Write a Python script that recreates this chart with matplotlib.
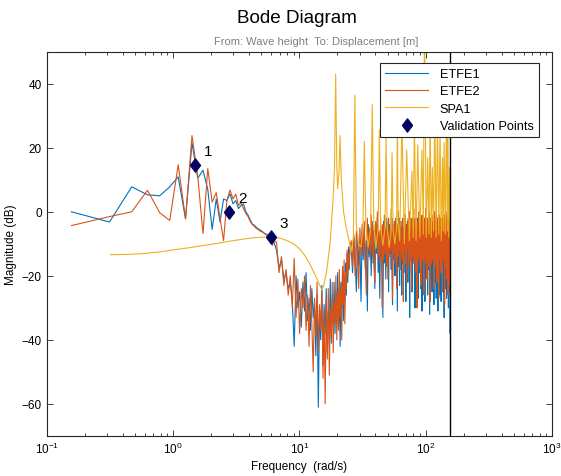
import numpy as np
import matplotlib
matplotlib.use("Agg")
import matplotlib.pyplot as plt
from matplotlib.ticker import LogLocator, NullFormatter

plt.rcParams['font.family'] = ['Liberation Sans', 'DejaVu Sans']
plt.rcParams['mathtext.default'] = 'regular'

# ETFE frequency grid: k * pi / (N * Ts), Ts = 0.02, N = 1000
dw = np.pi / 20.0
k_lo = np.arange(1, 41)
k_mid = np.arange(42, 161, 2)
k_hi = np.arange(164, 1001, 4)
w_etfe = dw * np.concatenate([k_lo, k_mid, k_hi])
w_nyq = np.pi / 0.02

# ---- ETFE1 (dB)
etfe1_lo = [0.0, -3.2, 7.8, 5.3, 5.0, 7.8, 10.9, -2.2, 21.5, 10.5,
            13.0, 7.0, -5.5, 4.0, -3.2, 4.0, 3.5, 5.6, 2.5, 3.5,
            1.0, 2.0, 2.5, 0.0, -1.0, -2.5, -3.8, -4.2, -4.8, -5.3,
            -5.6, -6.0, -6.4, -6.9, -7.0, -7.3, -7.6, -8.2, -9.5, -9.4]
etfe1_mid = [-12, -17.5, -15, -21, -19, -24, -22, -28, -42, -20,
             -30, -25, -36, -22, -31, -19, -34, -27, -37, -24,
             -33, -28, -45, -26, -61, -30, -40, -23, -48, -29,
             -38, -24, -44, -31, -36, -21, -41, -27, -35, -22,
             -38, -25, -33, -19, -36, -24, -42, -22, -30, -18,
             -34, -20, -28, -16, -26, -13, -22, -11, -18, -12]
etfe1_hi = [-11, -19, -8, -14, -25, -7, -17, -10, -28, -6,
            -15, -5, -18, -9, -31, -4, -14, -7, -20, -3,
            -16, -6, -24, -5, -13, -2, -19, -8, -27, -4,
            -14, -7, -33, -3, -16, -6, -21, -2, -15, -9,
            -25, -4, -13, -8, -18, -2, -29, -5, -15, -7,
            -20, -3, -14, -6, -31, -4, -17, -2, -23, -8,
            -13, -5, -26, -3, -16, -7, -19, -2, -14, -6,
            -28, -4, -15, -8, -22, -2, -17, -5, -33, -3,
            -14, -7, -19, -4, -25, -2, -16, -6, -13, -9,
            -30, -3, -17, -5, -21, -2, -15, -8, -27, -4,
            -14, -6, -19, -2, -24, -5, -16, -3, -31, -7,
            -13, -4, -22, -6, -17, -2, -28, -5, -15, -3,
            -20, -7, -14, -2, -26, -4, -18, -6, -13, -3,
            -32, -5, -16, -2, -21, -7, -15, -4, -25, -6,
            -14, -3, -19, -5, -29, -2, -17, -6, -22, -4,
            -15, -8, -27, -3, -13, -5, -20, -2, -31, -6,
            -16, -4, -23, -7, -14, -2, -26, -5, -18, -3,
            -28, -6, -15, -4, -21, -2, -17, -7, -25, -3,
            -14, -5, -33, -2, -19, -6, -16, -4, -24, -8,
            -13, -3, -27, -5, -17, -2, -22, -6, -15, -4,
            -30, -7, -18, -3, -25, -5, -14, -2, -38, -12]

# ---- ETFE2 (dB)
etfe2_lo = [-4.3, -1.5, 0.0, 6.7, -0.3, -2.7, 14.7, -2.2, 23.8, 11.0,
            -6.8, 13.5, 3.0, 6.0, -2.0, -9.0, 3.5, 6.8, 4.0, 5.5,
            2.0, 2.8, 1.0, -0.5, -1.5, -3.0, -4.0, -4.5, -5.2, -5.5,
            -6.0, -6.2, -6.5, -6.8, -7.2, -7.5, -7.8, -8.5, -10.5, -9.0]
etfe2_mid = [-9.5, -19, -14, -23, -18, -26, -20, -30, -14.5, -33,
             -21, -38, -24, -30, -20, -37, -26, -42, -23, -35,
             -50, -27, -39, -22, -44, -29, -37, -25, -52, -31,
             -60, -27, -46, -24, -51, -30, -39, -22, -44, -28,
             -35, -20, -40, -25, -37, -18, -33, -23, -40, -17,
             -29, -15, -35, -19, -24, -12, -20, -13, -17, -11]
etfe2_hi = [-9, -17, -7, -20, -6, -15, -24, -5, -14, -4,
            -13, -3, -16, -26, -2, -12, -5, -15, -1, -13,
            -4, -17, -22, -3, -11, 0, -14, -6, -16, -2,
            -12, -30, -4, -15, -1, -13, -5, -17, -3, -21,
            -2, -14, -6, -12, 1, -15, -27, -4, -13, -3,
            -16, -2, -11, -24, -5, -14, 0, -12, -4, -18,
            -3, -13, -7, -15, -2, -28, -5, -12, -1, -16,
            -4, -14, -22, -3, -11, -6, -17, 0, -13, -4,
            -15, -2, -25, -5, -12, -3, -14, 1, -16, -6,
            -12, -2, -19, -4, -13, -30, -3, -15, -5, -11,
            0, -14, -4, -17, -2, -23, -6, -13, -1, -15,
            -3, -12, -5, -26, -2, -14, -4, -11, 1, -16,
            -5, -13, -21, -3, -15, -2, -12, -6, -17, 0,
            -14, -4, -28, -3, -12, -5, -16, -1, -13, -3,
            -15, -6, -11, -2, -24, -4, -14, 0, -12, -5,
            -17, -3, -13, -1, -15, -22, -4, -12, -2, -16,
            -5, -27, -3, -14, -1, -13, -6, -15, -2, -19,
            -4, -12, 0, -16, -5, -25, -3, -14, -2, -11,
            -6, -15, -1, -13, -29, -4, -12, -3, -17, 0,
            -14, -5, -21, -2, -13, -4, -15, -1, -26, -3,
            -12, -6, -16, -2, -14, -23, -4, -13, -1, -15]

etfe1 = np.concatenate([etfe1_lo, etfe1_mid, etfe1_hi])
etfe2 = np.concatenate([etfe2_lo, etfe2_mid, etfe2_hi])

# ---- SPA1
spa_w = [0.32, 0.45, 0.6, 0.8, 1.0, 1.3, 1.7, 2.2, 2.8, 3.5,
         4.3, 5.2, 6.0, 7.0, 8.0, 9.0, 10.0, 11.0, 12.0, 13.0,
         14.0, 14.6, 15.1, 15.6, 16.4, 17.5, 18.0, 18.5, 19.0, 19.4,
         19.8, 20.1, 20.6, 21.0, 21.5, 22.4, 23.5, 24.6, 25.7, 26.8,
         27.5, 28.3, 29.3, 30.8, 31.9, 32.7, 33.6, 35.0, 36.6, 37.8,
         38.8, 40.4, 42.1, 43.0, 44.0, 45.8, 47.7, 48.6, 49.6, 51.4,
         53.4, 54.2, 55.3, 57.0, 58.9, 59.7, 60.6, 62.3, 64.9, 67.8,
         70.8, 74.3, 77.9, 79.7, 81.5, 84.0, 86.6, 90.0, 93.5, 95.8,
         98.0, 101.0, 103.8, 106.2, 108.5, 110.8, 113.0, 115.5, 118.0, 121.0,
         124.0, 127.0, 130.0, 133.0, 136.0, 138.0, 140.0, 143.0, 146.5, 148.3,
         150.0, 152.5, 155.0, 157.0]
spa_db = [-13.4, -13.3, -13.0, -12.5, -11.9, -11.3, -10.6, -9.9, -9.2, -8.6,
          -8.1, -7.9, -7.8, -8.2, -9.0, -10.0, -11.5, -13.5, -16.0, -18.8,
          -21.5, -23.2, -24.4, -23.0, -19.0, -10.0, -3.0, 4.0, 14.0, 43.0,
          14.0, 7.2, 12.0, 23.8, 10.0, 0.0, -5.0, -8.4, -12.5, -8.0,
          36.5, -4.0, -10.0, -11.0, -5.0, 22.0, -4.0, -11.0, -6.0, 33.5,
          -3.0, -11.5, -5.0, 25.5, -5.0, -10.5, -5.0, 23.8, -5.0, -11.0,
          -6.0, 18.4, -6.0, -10.0, -5.0, 30.0, -4.0, -9.0, 28.0, -10.0,
          19.3, -9.0, 12.7, -8.0, 28.0, -9.0, 21.0, -8.0, 19.3, -7.0,
          62.0, -8.0, 16.9, -7.0, 30.0, -8.0, 13.8, -6.0, 32.0, -8.0,
          28.0, -7.0, 26.0, -9.0, 16.9, -6.0, 21.6, -7.0, 34.0, -6.0,
          24.7, -8.0, 14.0, -3.0]

# ---- validation points
val_w = [1.5, 2.8, 6.0]
val_db = [14.5, 0.0, -8.0]
val_labels = ['1', '2', '3']

c_blue = (0.0, 0.447, 0.741)
c_orange = (0.850, 0.325, 0.098)
c_yellow = (0.929, 0.694, 0.125)
c_navy = (0.02, 0.02, 0.38)

# MATLAB-like diamond (a bit taller than wide)
diamond = [(-0.38, 0), (0, 0.5), (0.38, 0), (0, -0.5), (-0.38, 0)]

fig = plt.figure(figsize=(5.61, 4.77), dpi=100)
ax = fig.add_axes([0.0832, 0.0839, 0.9007, 0.8057])

ax.plot(w_etfe, etfe1, color=c_blue, lw=0.8, label='ETFE1')
ax.plot(w_etfe, etfe2, color=c_orange, lw=0.8, label='ETFE2')
ax.plot(spa_w, spa_db, color=c_yellow, lw=0.8, label='SPA1')
ax.plot(val_w, val_db, linestyle='none', marker=diamond, ms=9.5, color=c_navy,
        label='Validation Points')
for w, m, s in zip(val_w, val_db, val_labels):
    ax.annotate(s, (w, m), xytext=(6, 5), textcoords='offset points',
                fontsize=11, ha='left', va='bottom')
ax.axvline(w_nyq, color='black', lw=1.0)

ax.set_xscale('log')
ax.set_xlim(0.1, 1000)
ax.set_ylim(-70, 50)
ax.set_yticks([-60, -40, -20, 0, 20, 40])
ax.xaxis.set_major_locator(LogLocator(base=10, numticks=10))
ax.xaxis.set_minor_locator(LogLocator(base=10, subs=np.arange(2, 10), numticks=20))
ax.xaxis.set_minor_formatter(NullFormatter())
ax.tick_params(which='both', direction='in', top=True, right=True,
               labelsize=8.5, colors='0.15', labelcolor='black')
ax.tick_params(which='major', length=4.5, width=0.6)
ax.tick_params(which='minor', length=2.5, width=0.6)
for sp in ax.spines.values():
    sp.set_color('0.15')
    sp.set_linewidth(0.8)

ax.set_xlabel('Frequency  (rad/s)', fontsize=8.5, labelpad=3)
ax.set_ylabel('Magnitude (dB)', fontsize=8.5)
ax.yaxis.set_label_coords(-0.059, 0.5)
fig.text(0.530, 0.962, 'Bode Diagram', ha='center', va='center', fontsize=13.6)
fig.text(0.563, 0.911, 'From: Wave height  To: Displacement [m]', ha='center',
         va='center', fontsize=8.0, color='0.5')

leg = ax.legend(loc='upper right', bbox_to_anchor=(0.974, 0.9706),
                borderaxespad=0, fontsize=9.2, fancybox=False, framealpha=1,
                edgecolor='0.15', handlelength=3.4, handletextpad=0.9,
                borderpad=0.4, labelspacing=0.42)
leg.get_frame().set_linewidth(0.8)

fig.savefig('out.png', dpi=100)
